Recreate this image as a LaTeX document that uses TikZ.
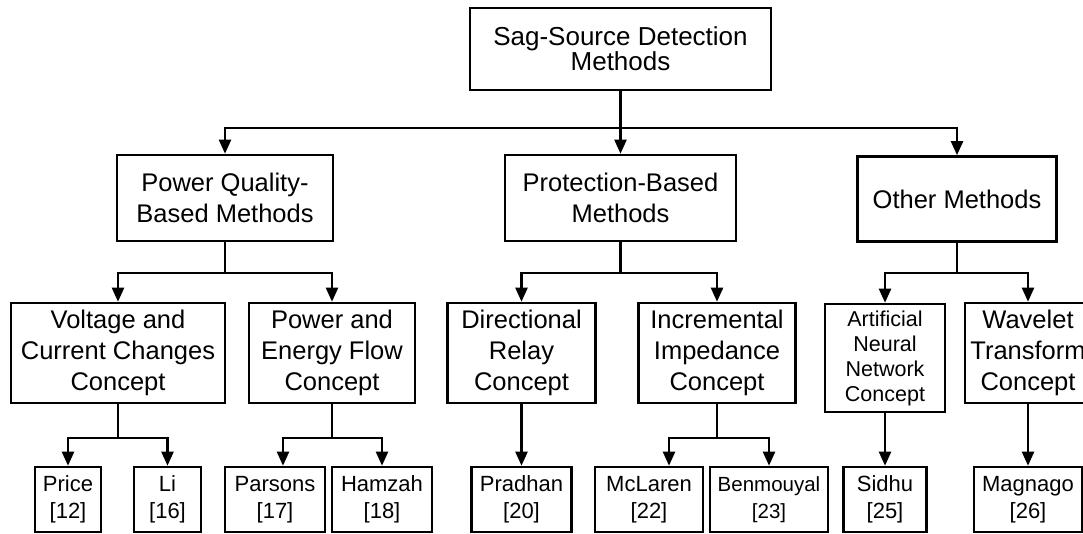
\documentclass[tikz,border=0pt]{standalone}
\usepackage{fontspec}
\setmainfont{Liberation Sans}
\usetikzlibrary{arrows.meta,calc}
\begin{document}
\begin{tikzpicture}[x=1pt,y=-1pt,
  box/.style={draw,line width=2.6pt,inner sep=0pt,align=center},
  big/.style={font=\fontsize{25.5}{31}\selectfont},
  small/.style={font=\fontsize{22}{27}\selectfont},
  link/.style={line width=2.3pt},
  arr/.style={link,-{Triangle[length=14pt,width=12pt]}}]
\useasboundingbox (0,0) rectangle (1083,534);

% root
\node[box,font=\fontsize{26}{25}\selectfont,minimum width=301pt,minimum height=82pt]
  (root) at (620.5,49) {Sag-Source Detection\\Methods};

% method families
\node[box,big,minimum width=216pt,minimum height=86pt] (pq) at (225,198) {Power Quality-\\Based Methods};
\node[box,big,minimum width=231pt,minimum height=86pt] (prot) at (620.5,198) {Protection-Based\\Methods};
\node[box,big,minimum width=199pt,minimum height=85pt] (other) at (957,199) {Other Methods};

% concepts
\node[box,big,minimum width=214pt,minimum height=100pt] (volt) at (118,353) {Voltage and\\Current Changes\\Concept};
\node[box,big,minimum width=166pt,minimum height=100pt] (pef) at (332,353) {Power and\\Energy Flow\\Concept};
\node[box,big,minimum width=148pt,minimum height=100pt] (dir) at (521.5,353) {Directional\\Relay\\Concept};
\node[box,big,minimum width=157pt,minimum height=100pt] (inc) at (717,353) {Incremental\\Impedance\\Concept};
\node[box,font=\fontsize{21.5}{25}\selectfont,minimum width=120pt,minimum height=108pt] (ann) at (885,358) {Artificial\\Neural\\Network\\Concept};
\node[box,big,minimum width=126pt,minimum height=100pt] (wav) at (1028,353) {Wavelet\\Transform\\Concept};

% references
\node[box,small,minimum width=66pt,minimum height=65pt] (price) at (68,499.5) {Price\\{[12]}};
\node[box,small,minimum width=67pt,minimum height=65pt] (li) at (167.5,499.5) {Li\\{[16]}};
\node[box,small,minimum width=100pt,minimum height=65pt] (pars) at (275,499.5) {Parsons\\{[17]}};
\node[box,small,minimum width=100pt,minimum height=65pt] (hamz) at (382,499.5) {Hamzah\\{[18]}};
\node[box,small,minimum width=100pt,minimum height=65pt] (prad) at (521.5,499.5) {Pradhan\\{[20]}};
\node[box,small,minimum width=108pt,minimum height=65pt] (mcl) at (649,499.5) {McLaren\\{[22]}};
\node[box,font=\fontsize{20.5}{27}\selectfont,minimum width=118pt,minimum height=65pt] (benm) at (769,499.5) {Benmouyal\\{[23]}};
\node[box,small,minimum width=83pt,minimum height=65pt] (sidhu) at (885,499.5) {Sidhu\\{[25]}};
\node[box,small,minimum width=108pt,minimum height=65pt] (magn) at (1028,499.5) {Magnago\\{[26]}};

% junction points on the horizontal buses
\coordinate (jroot) at ($(root.south)+(0,37)$);
\coordinate (jpq) at ($(pq.south)+(0,31)$);
\coordinate (jprot) at ($(prot.south)+(0,31)$);
\coordinate (jother) at ($(other.south)+(0,30)$);
\coordinate (jvolt) at ($(volt.south)+(0,34)$);
\coordinate (jpef) at ($(pef.south)+(0,34)$);
\coordinate (jinc) at ($(inc.south)+(0,34)$);

% root to families
\draw[link] (root.south) -- (jroot);
\draw[arr] (jroot) -| (pq.north);
\draw[arr] (jroot) -- (prot.north);
\draw[arr] (jroot) -| (other.north);

% families to concepts
\draw[link] (pq.south) -- (jpq);
\draw[arr] (jpq) -| (volt.north);
\draw[arr] (jpq) -| (pef.north);
\draw[link] (prot.south) -- (jprot);
\draw[arr] (jprot) -| (dir.north);
\draw[arr] (jprot) -| (inc.north);
\draw[link] (other.south) -- (jother);
\draw[arr] (jother) -| (ann.north);
\draw[arr] (jother) -| (wav.north);

% concepts to references
\draw[link] (volt.south) -- (jvolt);
\draw[arr] (jvolt) -| (price.north);
\draw[arr] (jvolt) -| (li.north);
\draw[link] (pef.south) -- (jpef);
\draw[arr] (jpef) -| ($(pars.north)+(8,0)$);
\draw[arr] (jpef) -| (hamz.north);
\draw[arr] (dir.south) -- (prad.north);
\draw[link] (inc.south) -- (jinc);
\draw[arr] (jinc) -| ($(mcl.north)+(20,0)$);
\draw[arr] (jinc) -| (benm.north);
\draw[arr] (ann.south) -- (sidhu.north);
\draw[arr] (wav.south) -- (magn.north);
\end{tikzpicture}
\end{document}
